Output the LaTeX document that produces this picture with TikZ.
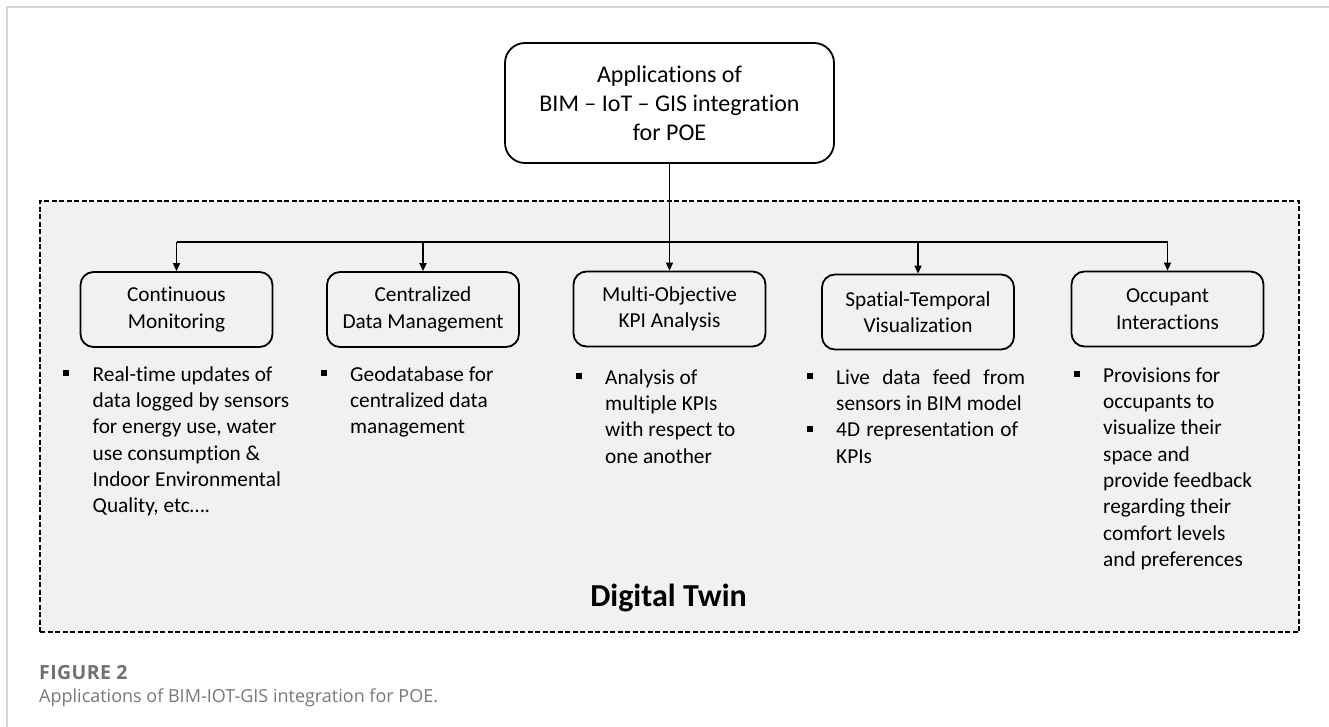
\documentclass[tikz,border=0pt]{standalone}
\usepackage{fontspec}
\setmainfont{Carlito}[Ligatures={NoCommon,NoRare,NoContextual},Contextuals={NoAlternate}]
\newfontfamily\capfont{Open Sans}
\newfontfamily\capboldfont{Open Sans}[LetterSpace=2]
\usetikzlibrary{arrows.meta}
\definecolor{framegray}{RGB}{214,214,214}
\definecolor{areagray}{RGB}{241,241,241}
\definecolor{capgray}{RGB}{112,112,112}
\definecolor{capgrayb}{RGB}{120,120,120}
\newcommand\bstrut{\rule{0pt}{17pt}}
\newcommand\mybul{\leavevmode\llap{\rule[5pt]{6pt}{6pt}\hspace{23.7pt}}}
\begin{document}
\begin{tikzpicture}[x=1pt,y=-1pt,
  box/.style={draw, line width=1.8pt, rounded corners=13pt, minimum width=192pt,
    minimum height=75pt, inner sep=0pt, align=center,
    font=\fontsize{21.3}{26.5}\selectfont},
  bultext/.style={anchor=north west, inner sep=0pt, align=left,
    font=\fontsize{21.3}{26.3}\selectfont},
  conn/.style={line width=1.7pt},
  arr/.style={line width=1.7pt, -{Triangle[length=8pt,width=7pt]}}]
\useasboundingbox (0,0) rectangle (1329,727);
% outer figure frame
\draw[framegray, line width=1.2pt] (7,727) -- (7,7) -- (1329,7);
% digital twin area
\node[draw, fill=areagray, line width=1.6pt, dash pattern=on 5pt off 2.5pt,
  minimum width=1259pt, minimum height=431pt, inner sep=0pt] (area) at (669.5,416.5) {};
% top box
\node[box, rounded corners=20pt, minimum width=329pt, minimum height=120pt,
  font=\fontsize{24}{29}\selectfont] (top) at (669.5,103)
  {Applications of\\BIM – IoT – GIS integration\\for POE};
% application boxes
\node[box] (b1) at (176.5,309.5) {Continuous\\Monitoring};
\node[box] (b2) at (423,309.5) {Centralized\\Data Management};
\node[box] (b3) at (669.5,309) {Multi-Objective\\KPI Analysis};
\node[box] (b4) at (918,312) {Spatial-Temporal\\Visualization};
\node[box] (b5) at (1167.5,309) {Occupant\\Interactions};
% connectors
\coordinate (bus) at (669.5,242);
\draw[arr] (top.south) -- (b3.north);
\draw[conn] (b1.north |- bus) -- (b5.north |- bus);
\draw[arr] (b1.north |- bus) -- (b1.north);
\draw[arr] (b2.north |- bus) -- (b2.north);
\draw[arr] (b4.north |- bus) -- (b4.north);
\draw[arr] (b5.north |- bus) -- (b5.north);
% bullet texts
\node[bultext] (t1) at (92.5,364) {\mybul\bstrut Real-time updates of\\
  data logged by sensors\\for energy use, water\\use consumption \&\\
  Indoor Environmental\\Quality, etc….};
\node[bultext] (t2) at (350,364) {\mybul\bstrut Geodatabase for\\centralized data\\management};
\node[bultext] (t3) at (605,367) {\mybul\bstrut Analysis of\\multiple KPIs\\with respect to\\one another};
\node[bultext] (t4) at (836,367) {\mybul\bstrut\makebox[189pt][s]{Live data feed from}\\sensors in BIM model\\
  \mybul\makebox[182pt][s]{4D representation of}\\KPIs};
\node[bultext] (t5) at (1103,365) {\mybul\bstrut Provisions for\\occupants to\\visualize their\\
  space and\\provide feedback\\regarding their\\comfort levels\\and preferences};
% digital twin label
\node[font=\bfseries\fontsize{32}{38}\selectfont, inner sep=0pt] (dt) at (668.5,598) {Digital Twin};
% caption
\node[anchor=base west, inner sep=0pt, text=capgray,
  font=\capboldfont\bfseries\fontsize{19.5}{24}\selectfont] (fig) at (39,679) {FIGURE 2};
\node[anchor=base west, inner sep=0pt, text=capgrayb,
  font=\capfont\fontsize{18}{22}\selectfont] (cap) at (39,702)
  {Applications of BIM-IOT-GIS integration for POE.};
\end{tikzpicture}
\end{document}
